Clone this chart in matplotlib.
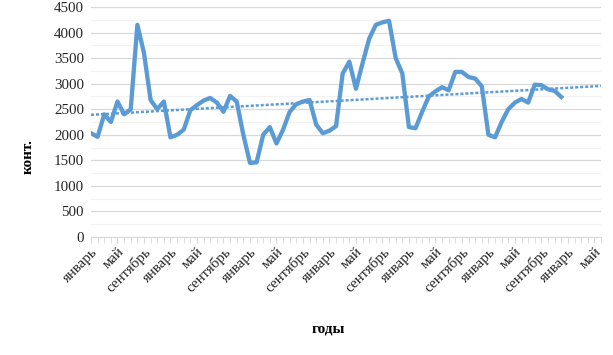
import numpy as np
import matplotlib
matplotlib.use("Agg")
import matplotlib.pyplot as plt
import matplotlib.ticker as mticker

# monthly values, January of year 1 .. December of year 6
values = [2030, 1960, 2400, 2250, 2650, 2400, 2500, 4150, 3600, 2680, 2500, 2650,
          1950, 2000, 2100, 2480, 2580, 2670, 2720, 2630, 2450, 2760, 2650, 2000,
          1450, 1460, 2000, 2150, 1830, 2100, 2450, 2600, 2650, 2680, 2200, 2030,
          2080, 2170, 3200, 3430, 2900, 3400, 3880, 4150, 4200, 4230, 3500, 3200,
          2150, 2130, 2450, 2750, 2850, 2930, 2870, 3230, 3230, 3130, 3100, 2950,
          2000, 1950, 2250, 2500, 2630, 2700, 2630, 2980, 2970, 2890, 2860, 2740]
forecast = 6  # trend extended past the data
month_names = ["январь", "май", "сентябрь"]

blue = "#5B9BD5"
n_total = len(values) + forecast

x = np.arange(len(values))
k, b = np.polyfit(x, values, 1)
xt = np.arange(n_total)

fig, ax = plt.subplots(figsize=(6.13, 3.55), dpi=100)
fig.subplots_adjust(left=91/613, right=601/613, top=1-7/355, bottom=1-237/355)

ax.plot(x, values, color=blue, lw=3.1, solid_joinstyle="round", zorder=3)
ax.plot(xt, k*xt + b - 10, color=blue, lw=1.8, linestyle=(0, (1.2, 0.8)), zorder=2)

ax.set_xlim(0, n_total - 1)
ax.set_ylim(0, 4500)
ax.yaxis.set_major_locator(mticker.MultipleLocator(500))
ax.yaxis.set_minor_locator(mticker.MultipleLocator(250))
ax.grid(True, which="major", axis="y", color="#D9D9D9", lw=0.9)
ax.grid(True, which="minor", axis="y", color="#F2F2F2", lw=0.9)
ax.set_axisbelow(True)

pos = list(range(0, n_total, 4))
ax.set_xticks(pos)
ax.set_xticklabels([month_names[i % 3] for i in range(len(pos))],
                   rotation=45, ha="right", rotation_mode="anchor")
ax.xaxis.set_minor_locator(mticker.MultipleLocator(1))
ax.tick_params(axis="x", which="both", length=4, color="#D9D9D9", pad=2)
ax.tick_params(axis="y", which="both", length=0, pad=5)

for s in ["top", "right", "left"]:
    ax.spines[s].set_visible(False)
ax.spines["bottom"].set_color("#D9D9D9")

for lab in ax.get_xticklabels() + ax.get_yticklabels():
    lab.set_fontfamily("Liberation Serif")
    lab.set_fontsize(10.8)
    lab.set_color("#262626")

ax.set_ylabel("конт.", fontfamily="Liberation Serif", fontweight="bold",
              fontsize=11)
ax.set_xlabel("годы", fontfamily="Liberation Serif", fontweight="bold",
              fontsize=11)
ax.yaxis.set_label_coords(-0.11, 0.35)
ax.xaxis.set_label_coords(0.465, -0.37)

fig.savefig("out.png", dpi=100)
